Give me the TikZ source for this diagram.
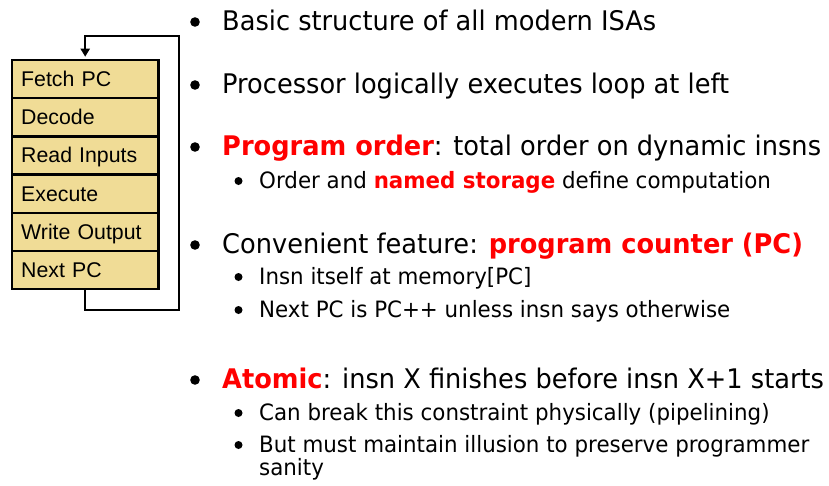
\documentclass[tikz,border=0pt]{standalone}
\usepackage{fontspec}
\setmainfont{DejaVu Sans}[FakeStretch=0.95]
\newfontfamily\boxfont{Liberation Sans}
\usetikzlibrary{arrows.meta}
\definecolor{boxfill}{RGB}{240,220,150}
\definecolor{hl}{RGB}{255,0,0}
\newcommand{\hlt}[1]{\textcolor{hl}{\textbf{#1}}}
\begin{document}
\begin{tikzpicture}[x=1pt,y=-1pt,
  stage/.style={draw=black, line width=2.4pt, fill=boxfill, anchor=north west,
    minimum width=146.6pt, minimum height=38.2pt, inner xsep=9.3pt, inner ysep=0pt,
    text width=128pt, align=left, font=\boxfont\fontsize{21.3}{24}\selectfont,
    text height=16pt, text depth=1pt},
  looparrow/.style={draw=black, line width=2.4pt, -{Triangle[length=8pt,width=9pt]}, shorten >=2pt},
  mtext/.style={anchor=base west, inner sep=0pt, font=\fontsize{27}{30}\selectfont},
  stext/.style={anchor=base west, inner sep=0pt, font=\fontsize{22.5}{25}\selectfont},
  mbul/.style={fill=black},
  sbul/.style={fill=black}]
\useasboundingbox (0,0) rectangle (829,485);

% stages
\node[stage] (r1) at (10.7,58.7) {Fetch PC};
\node[stage] (r2) at (10.7,96.9) {Decode};
\node[stage] (r3) at (10.7,135.1) {Read Inputs};
\node[stage] (r4) at (10.7,173.3) {Execute};
\node[stage] (r5) at (10.7,211.5) {Write Output};
\node[stage] (r6) at (10.7,249.7) {Next PC};

\coordinate (lb) at (179,310);
\coordinate (lt) at (179,36);
\draw[looparrow] (r6.south) |- (lb) -- (lt) -| (r1.north);

% text
\node[mtext] (t1) at (222,30) {Basic structure of all modern ISAs};
\node[mtext] (t2) at (222,93) {Processor logically executes loop at left};
\node[mtext] (t3) at (222,155) {\hlt{Program order}: total order on dynamic insns};
\node[stext] (s1) at (259,188) {Order and \hlt{named storage} define computation};
\node[mtext] (t4) at (222,253) {Convenient feature: \hlt{program counter (PC)}};
\node[stext] (s2) at (259,284) {Insn itself at memory[PC]};
\node[stext] (s3) at (259,317) {Next PC is PC++ unless insn says otherwise};
\node[mtext] (t5) at (222,388) {\hlt{Atomic}: insn X finishes before insn X+1 starts};
\node[stext] (s4) at (259,420) {Can break this constraint physically (pipelining)};
\node[stext] (s5) at (259,452) {But must maintain illusion to preserve programmer};
\node[stext] (s6) at (259,475) {sanity};

% bullets
\foreach \n in {t1,t2,t3,t4,t5}
  \fill[mbul] ([shift={(-27,-8)}]\n.base west) circle (4.8pt);
\foreach \n in {s1,s2,s3,s4,s5}
  \fill[sbul] ([shift={(-20.5,-7)}]\n.base west) circle (4pt);
\end{tikzpicture}
\end{document}
